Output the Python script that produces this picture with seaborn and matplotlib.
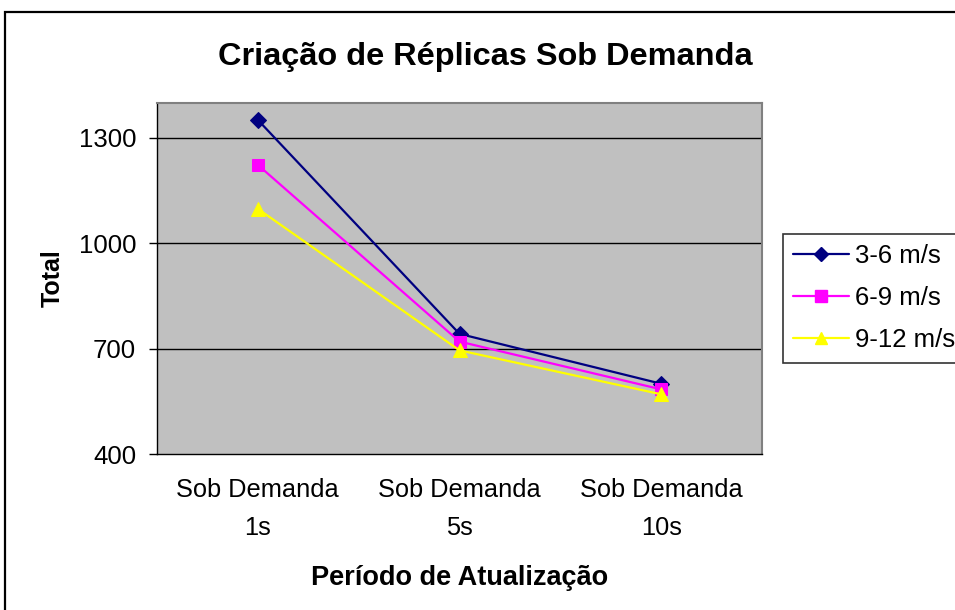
import matplotlib
matplotlib.use("Agg")
import matplotlib.pyplot as plt
from matplotlib.patches import Rectangle
from matplotlib.lines import Line2D
import seaborn as sns
import pandas as pd

categories = ["Sob Demanda\n1s", "Sob Demanda\n5s", "Sob Demanda\n10s"]
series_names = ["3-6 m/s", "6-9 m/s", "9-12 m/s"]
vals_3_6 = [1351, 742, 600]
vals_6_9 = [1223, 720, 584]
vals_9_12 = [1098, 695, 570]
yticks = [400, 700, 1000, 1300]

colors = {"3-6 m/s": "#000080", "6-9 m/s": "#FF00FF", "9-12 m/s": "#FFFF00"}
markers = {"3-6 m/s": "D", "6-9 m/s": "s", "9-12 m/s": "^"}
msizes = {"3-6 m/s": 8, "6-9 m/s": 9, "9-12 m/s": 10}

rows = []
for name, vals in zip(series_names, [vals_3_6, vals_6_9, vals_9_12]):
    for i, v in enumerate(vals):
        rows.append({"pos": i, "Total": v, "serie": name})
df = pd.DataFrame(rows)

sns.set_style("white")
plt.rcParams["font.family"] = ["Liberation Sans", "DejaVu Sans"]
plt.rcParams["text.color"] = "black"
plt.rcParams["axes.labelcolor"] = "black"
plt.rcParams["xtick.color"] = "black"
plt.rcParams["ytick.color"] = "black"

fig = plt.figure(figsize=(9.55, 6.1), dpi=100)
ax = fig.add_axes([157/955, 1-454/610, (762-157)/955, (454-102.7)/610])
ax.set_facecolor("#C0C0C0")

for name in series_names:
    sub = df[df["serie"] == name]
    sns.lineplot(data=sub, x="pos", y="Total", ax=ax, color=colors[name],
                 marker=markers[name], markersize=msizes[name],
                 markeredgecolor=colors[name], linewidth=1.6, legend=False,
                 zorder=3)

ax.set_ylim(400, 1400)
ax.set_xlim(-0.5, 2.5)
ax.set_yticks(yticks)
ax.set_yticklabels([str(t) for t in yticks], fontsize=18.5)
for t in yticks[1:]:
    ax.axhline(t, color="black", linewidth=1.0, zorder=1)

ax.set_xticks([0, 1, 2])
ax.set_xticklabels(categories, fontsize=18.3, linespacing=1.75)
ax.set_xticks([-0.5, 0.5, 1.5, 2.5], minor=True)
ax.tick_params(axis="x", which="major", length=0, pad=17)
ax.tick_params(axis="x", which="minor", length=7, width=1, color="black", direction="out")
ax.tick_params(axis="y", length=6, width=1, color="black", direction="out", pad=9, left=True)

for s in ["top", "right"]:
    ax.spines[s].set_color("#808080")
    ax.spines[s].set_linewidth(1.5)
for s in ["left", "bottom"]:
    ax.spines[s].set_color("black")
    ax.spines[s].set_linewidth(1.0)

ax.set_xlabel("Período de Atualização", fontsize=19.5, fontweight="bold", labelpad=18)
ax.set_ylabel("Total", fontsize=18, fontweight="bold", labelpad=10)

fig.text(485/955, 1-57/610, "Criação de Réplicas Sob Demanda", fontsize=23.4,
         fontweight="bold", ha="center", va="center")

handles = [Line2D([0], [0], color=colors[n], marker=markers[n], markersize=msizes[n] - 1,
                  markeredgecolor=colors[n], linewidth=1.6) for n in series_names]
leg = fig.legend(handles, series_names, loc="upper left",
                 bbox_to_anchor=(783/955, 1-234/610), fontsize=18.5, frameon=True,
                 fancybox=False, edgecolor="black", borderpad=0.4, labelspacing=0.7,
                 handlelength=2.15, handletextpad=0.25, borderaxespad=0)
leg.get_frame().set_linewidth(1.2)

fig.patches.append(Rectangle((5/955, -0.1), 1.2, 1-12/610+0.1, transform=fig.transFigure,
                             fill=False, edgecolor="black", linewidth=1.6))

fig.savefig("out.png", dpi=100)
